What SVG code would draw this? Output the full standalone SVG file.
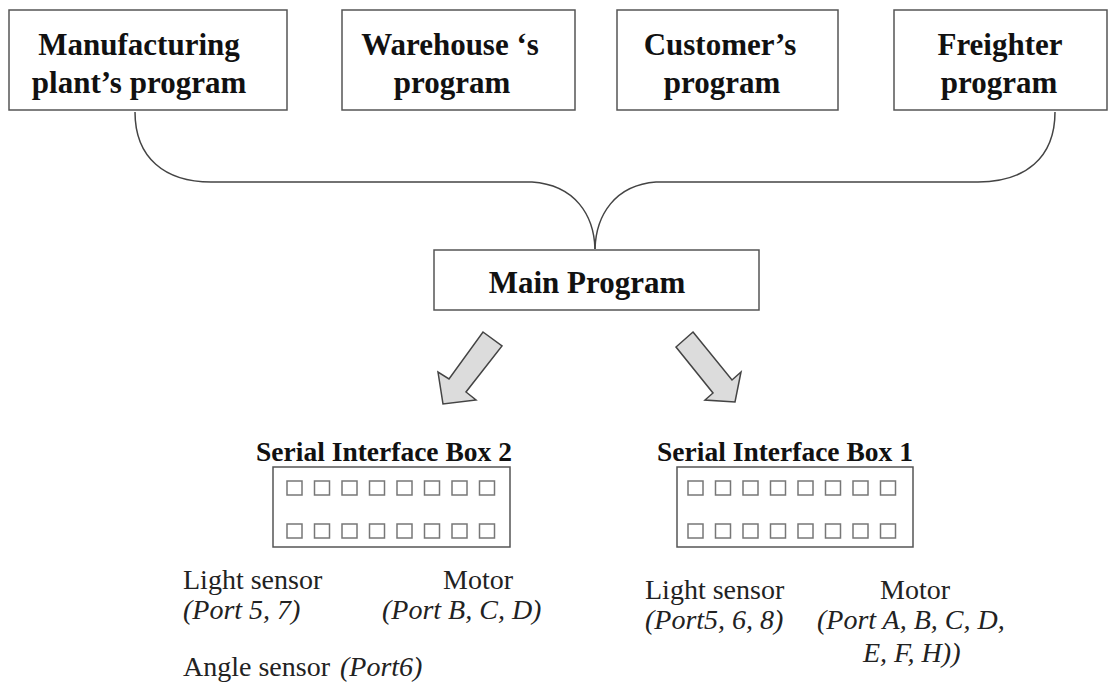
<svg xmlns="http://www.w3.org/2000/svg" width="1109" height="695" viewBox="0 0 1109 695">
<style>
text{font-family:"Liberation Serif","Times New Roman",Tinos,"DejaVu Serif",serif}
.box{fill:#fff;stroke:#555;stroke-width:1.5}
.bt{font-weight:bold;font-size:31px;fill:#111;text-anchor:middle}
.st{font-weight:bold;font-size:27.5px;fill:#111;text-anchor:middle}
.lb{font-size:28px;fill:#222}
.it{font-style:italic;font-size:28px;fill:#222}
.port{fill:#fff;stroke:#777;stroke-width:1.5}
.arr{fill:#dcdcdc;stroke:#444;stroke-width:1.5;stroke-linejoin:miter}
.con{fill:none;stroke:#444;stroke-width:1.5}
</style>
<defs>
<g id="ports">
<rect class="port" x="0" y="0" width="15" height="14"/>
<rect class="port" x="27.5" y="0" width="15" height="14"/>
<rect class="port" x="55" y="0" width="15" height="14"/>
<rect class="port" x="82.5" y="0" width="15" height="14"/>
<rect class="port" x="110" y="0" width="15" height="14"/>
<rect class="port" x="137.5" y="0" width="15" height="14"/>
<rect class="port" x="165" y="0" width="15" height="14"/>
<rect class="port" x="192.5" y="0" width="15" height="14"/>
</g>
</defs>
<rect width="1109" height="695" fill="#fff"/>

<g id="connectors">
<path class="con" d="M135,112 C135,158 165,182 211,182 L532,182 C575,185 594,215 595,249"/>
<path class="con" d="M1055,112 C1055,158 1025,182 978,182 L656,182 C615,185 596,215 595,249"/>
<polygon class="arr" points="483,332 502,346 466,392 476,400 443,404 438,372 449,379"/>
<polygon class="arr" points="693,332 732,380 741,372 735,402 705,400 713,393 676,347"/>
</g>

<g id="manufacturing">
<rect class="box" x="9" y="10" width="278" height="100"/>
<text class="bt" x="139" y="55">Manufacturing</text>
<text class="bt" x="139" y="93">plant’s program</text>
</g>
<g id="warehouse">
<rect class="box" x="342" y="10" width="233" height="100"/>
<text class="bt" x="450" y="55">Warehouse ‘s</text>
<text class="bt" x="452" y="93">program</text>
</g>
<g id="customer">
<rect class="box" x="617" y="10" width="221" height="100"/>
<text class="bt" x="720" y="55">Customer’s</text>
<text class="bt" x="722" y="93">program</text>
</g>
<g id="freighter">
<rect class="box" x="894" y="10" width="213" height="100"/>
<text class="bt" x="1000" y="55">Freighter</text>
<text class="bt" x="999" y="93">program</text>
</g>
<g id="main">
<rect class="box" x="434" y="250" width="325" height="60"/>
<text class="bt" x="587" y="293">Main Program</text>
</g>

<g id="sib2">
<text class="st" x="384" y="461">Serial Interface Box 2</text>
<rect class="box" x="273" y="467" width="237" height="80"/>
<use href="#ports" x="287" y="481"/>
<use href="#ports" x="287" y="524"/>
<text class="lb" x="183" y="589">Light sensor</text>
<text class="it" x="183" y="619">(Port 5, 7)</text>
<text class="lb" x="443" y="589">Motor</text>
<text class="it" x="382" y="619">(Port B, C, D)</text>
<text class="lb" x="183" y="676">Angle sensor</text>
<text class="it" x="340" y="676">(Port6)</text>
</g>

<g id="sib1">
<text class="st" x="785" y="461">Serial Interface Box 1</text>
<rect class="box" x="677" y="467" width="236" height="80"/>
<use href="#ports" x="688" y="481"/>
<use href="#ports" x="688" y="524"/>
<text class="lb" x="645" y="599">Light sensor</text>
<text class="it" x="645" y="629">(Port5, 6, 8)</text>
<text class="lb" x="880" y="599">Motor</text>
<text class="it" x="817" y="629">(Port A, B, C, D,</text>
<text class="it" x="863" y="662">E, F, H))</text>
</g>
</svg>
